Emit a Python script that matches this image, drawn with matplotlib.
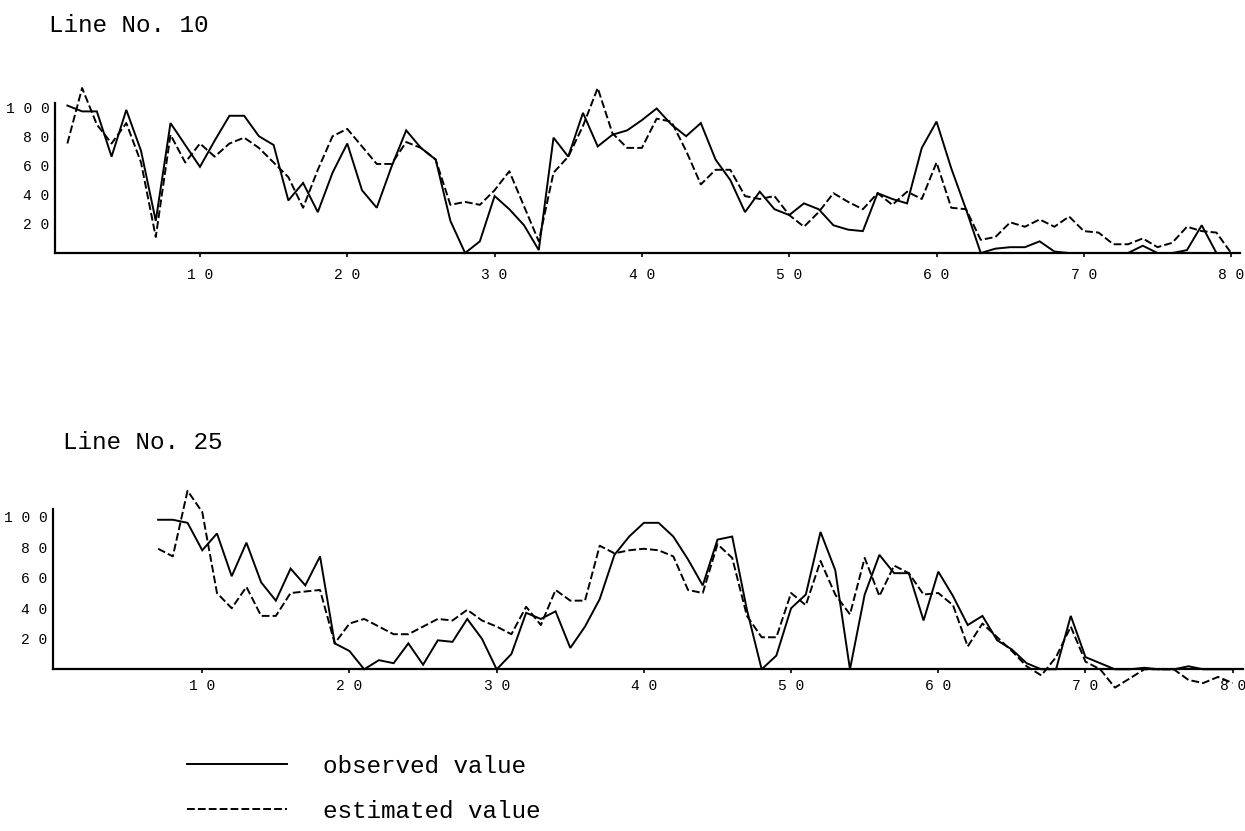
import matplotlib
matplotlib.use("Agg")
import matplotlib.pyplot as plt
from matplotlib.ticker import FixedLocator, FuncFormatter

plt.rcParams['font.family'] = ['Liberation Mono', 'DejaVu Sans Mono']

# station numbers along each survey line
x10 = list(range(1, 81))
x25 = list(range(7, 81))

# Line No. 10
obs10 = [101, 97, 97, 66, 98, 70, 22, 89, 74, 59,
         77, 94, 94, 80, 74, 36, 48, 28, 55, 75,
         43, 31, 59, 84, 72, 64, 22, 0, 8, 39,
         30, 19, 2, 79, 66, 96, 73, 81, 84, 91,
         99, 88, 80, 89, 64, 50, 28, 42, 30, 26,
         34, 30, 19, 16, 15, 41, 37, 34, 72, 90,
         58, 30, 0, 3, 4, 4, 8, 1, 0, 0,
         0, 0, 0, 5, 0, 0, 2, 19, 0, 0]
est10 = [75, 113, 88, 75, 89, 62, 11, 81, 62, 75,
         66, 75, 79, 72, 62, 52, 31, 57, 80, 85,
         73, 61, 61, 76, 72, 64, 33, 35, 33, 43,
         56, 32, 8, 55, 66, 87, 113, 82, 72, 72,
         92, 90, 70, 47, 57, 57, 39, 37, 39, 26,
         18, 28, 41, 35, 30, 41, 33, 42, 37, 62,
         31, 30, 9, 11, 21, 18, 23, 18, 25, 15,
         14, 6, 6, 10, 4, 7, 18, 15, 14, 0]

# Line No. 25
obs25 = [98, 98, 96, 78, 89, 61, 83, 57, 45, 66,
         55, 74, 17, 12, 0, 6, 4, 17, 3, 19,
         18, 33, 20, 0, 10, 37, 33, 38, 14, 28,
         46, 75, 87, 96, 96, 87, 72, 55, 85, 87,
         39, 0, 9, 40, 49, 90, 65, 0, 49, 75,
         63, 63, 32, 64, 48, 29, 35, 19, 13, 4,
         0, 0, 35, 8, 4, 0, 0, 1, 0, 0,
         2, 0, 0, 0]
est25 = [79, 74, 117, 103, 50, 40, 54, 35, 35, 50,
         51, 52, 17, 30, 33, 28, 23, 23, 28, 33,
         32, 39, 32, 28, 23, 41, 29, 52, 45, 45,
         81, 76, 78, 79, 78, 74, 52, 50, 82, 73,
         35, 21, 21, 50, 42, 71, 49, 36, 73, 48,
         68, 63, 49, 50, 42, 15, 30, 21, 12, 2,
         -4, 8, 28, 5, 0, -12, -6, 0, 0, 0,
         -7, -9, -5, -9]

xticks = [10, 20, 30, 40, 50, 60, 70, 80]
yticks = [20, 40, 60, 80, 100]

W, H = 1245, 831
fig = plt.figure(figsize=(W / 100, H / 100), dpi=100)


def spaced(v, pos=None):
    # the old printer puts a gap between the digits
    return ' '.join(str(int(round(v))))


def make_axes(left, right, ybot, ytop, xlim, ylim, spine_top, xpad):
    ax = fig.add_axes([left / W, 1 - ybot / H, (right - left) / W, (ybot - ytop) / H])
    ax.set_xlim(*xlim)
    ax.set_ylim(*ylim)
    for s in ('top', 'right'):
        ax.spines[s].set_visible(False)
    ax.spines['bottom'].set_position(('data', 0))
    ax.spines['left'].set_bounds(0, spine_top)
    ax.spines['left'].set_linewidth(1.6)
    ax.spines['bottom'].set_linewidth(1.6)
    ax.xaxis.set_major_locator(FixedLocator(xticks))
    ax.yaxis.set_major_locator(FixedLocator(yticks))
    ax.xaxis.set_major_formatter(FuncFormatter(spaced))
    ax.yaxis.set_major_formatter(FuncFormatter(spaced))
    ax.tick_params(axis='x', direction='out', length=3, width=1.2, pad=xpad, labelsize=10.5)
    ax.tick_params(axis='y', length=0, pad=4, labelsize=10.5)
    return ax


solid = dict(color='black', lw=1.4, ls='-', solid_joinstyle='miter')
dashed = dict(color='black', lw=1.4, ls=(0, (4, 1.6)))

ax1 = make_axes(55, 1240, 257.4, 77.8, (0.16, 80.6), (-3, 120), 103, 8)
ax1.plot(x10, obs10, **solid)
ax1.plot(x10, est10, **dashed)
fig.text(49 / W, 1 - 25 / H, 'Line No. 10', fontsize=17.5, va='center', ha='left')

ax2 = make_axes(53, 1243, 692.2, 486.2, (-0.14, 80.7), (-15, 120), 105, 4)
l1, = ax2.plot(x25, obs25, **solid)
l2, = ax2.plot(x25, est25, **dashed)
fig.text(63 / W, 1 - 443 / H, 'Line No. 25', fontsize=17.5, va='center', ha='left')

fig.legend([l1, l2], ['observed value', 'estimated value'],
           loc='upper left', bbox_to_anchor=(187 / W, 1 - 755 / H),
           frameon=False, fontsize=17.5, handlelength=4.1, handletextpad=1.5,
           labelspacing=0.9, borderpad=0, borderaxespad=0)

fig.savefig('out.png', dpi=100, facecolor='white')
